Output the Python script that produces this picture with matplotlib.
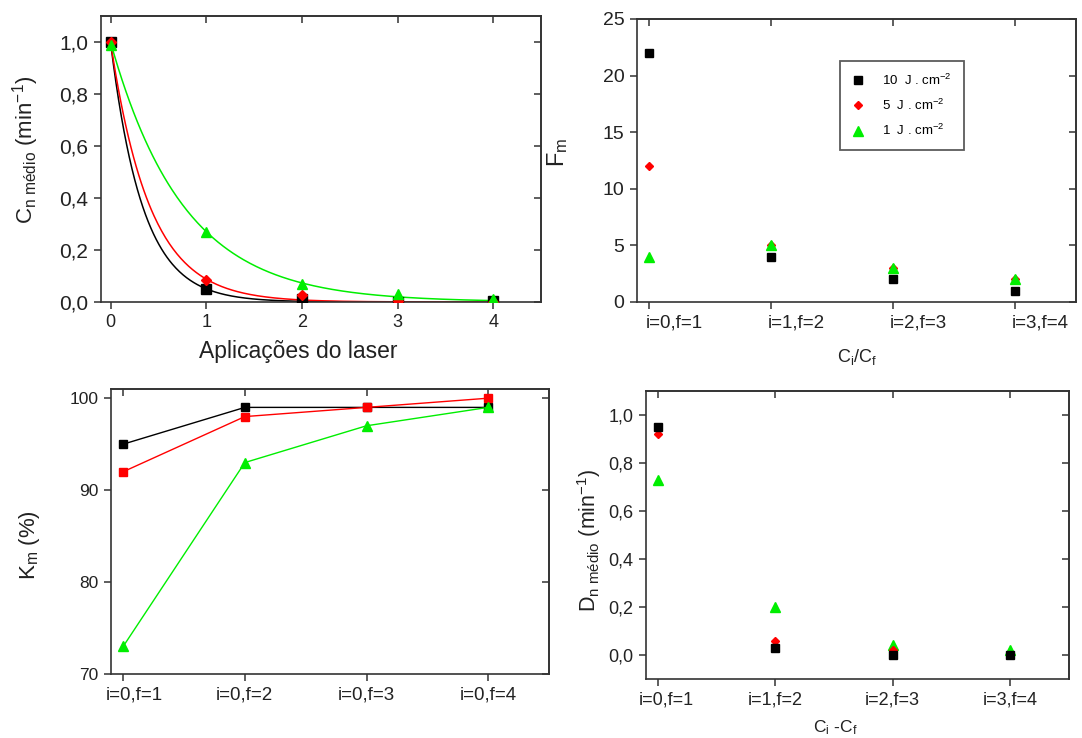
import numpy as np
import matplotlib
import matplotlib.pyplot as plt
import matplotlib.transforms as mtransforms
from matplotlib.ticker import FuncFormatter

matplotlib.use("AGG")

plt.rcParams["font.family"] = ["Liberation Sans", "DejaVu Sans"]
plt.rcParams["mathtext.fontset"] = "custom"
plt.rcParams["mathtext.rm"] = "Liberation Sans"
plt.rcParams["mathtext.it"] = "Liberation Sans:italic"

# C_n medio por aplicacao do laser
aplicacoes = [0, 1, 2, 3, 4]
cn_10 = [1.0, 0.05, 0.01, 0.0, 0.005]
cn_5 = [1.0, 0.085, 0.025, 0.005, 0.0]
cn_1 = [0.99, 0.27, 0.07, 0.03, 0.01]
fim_ajuste = [2.8, 4.0, 4.0]

# F_m
pares_razao = ["i=0,f=1", "i=1,f=2", "i=2,f=3", "i=3,f=4"]
fm_10 = [22, 4, 2, 1]
fm_5 = [12, 5, 3, 2]
fm_1 = [4, 5, 3, 2]

# K_m (%)
pares_km = ["i=0,f=1", "i=0,f=2", "i=0,f=3", "i=0,f=4"]
km_10 = [95, 99, 99, 99]
km_5 = [92, 98, 99, 100]
km_1 = [73, 93, 97, 99]

# D_n medio
dn_10 = [0.95, 0.03, 0.0, 0.0]
dn_5 = [0.92, 0.06, 0.02, 0.0]
dn_1 = [0.73, 0.20, 0.04, 0.02]

legendas = [r"10  J . cm$^{\mathregular{-2}}$",
            r"5  J . cm$^{\mathregular{-2}}$",
            r"1  J . cm$^{\mathregular{-2}}$"]

PRETO = "#000000"
VERMELHO = "#ff0000"
VERDE = "#00ee00"
CINZA = "#333333"
TEXTO = "#222222"


def virgula(v, pos):
    """Formata com virgula decimal."""
    return "{:.1f}".format(v).replace(".", ",")


def estilo(ax, xt, yt, tam=13):
    """Ticks para fora em baixo/esquerda e para dentro em cima/direita."""
    for s in ax.spines.values():
        s.set_color(CINZA)
        s.set_linewidth(1.2)
    ax.set_xticks(xt)
    ax.set_yticks(yt)
    ax.tick_params(direction="out", length=5, width=1.1, color=CINZA,
                   labelsize=tam, labelcolor=TEXTO, pad=4)
    topo = ax.secondary_xaxis("top")
    topo.set_xticks(xt)
    topo.tick_params(direction="in", length=5, width=1.1, color=CINZA,
                     labeltop=False)
    direita = ax.secondary_yaxis("right")
    direita.set_yticks(yt)
    direita.tick_params(direction="in", length=5, width=1.1, color=CINZA,
                        labelright=False)
    for sec in (topo, direita):
        for s in sec.spines.values():
            s.set_color(CINZA)
            s.set_linewidth(1.2)


def desloca(rotulo, dx):
    """Desloca um rotulo de tick dx pixels na horizontal."""
    rotulo.set_transform(rotulo.get_transform() +
                         mtransforms.Affine2D().translate(dx, 0))


def ajusta_exp(x, y):
    """Ajuste y = exp(-k x) por busca em grade."""
    x = np.asarray(x, float)
    y = np.asarray(y, float)
    ks = np.linspace(0.1, 6, 6000)
    erro = [np.sum((y - np.exp(-k * x)) ** 2) for k in ks]
    return ks[int(np.argmin(erro))]


fig = plt.figure(figsize=(10.82, 7.38), dpi=100)

# painel 1: C_n medio
ax1 = fig.add_axes([0.0933, 0.5908, 0.4067, 0.3875])
for ys, cor, mk, ms, xf in zip([cn_10, cn_5, cn_1], [PRETO, VERMELHO, VERDE],
                               ["s", "D", "^"], [6.5, 5.5, 7.5], fim_ajuste):
    k = ajusta_exp(aplicacoes, ys)
    xx = np.linspace(0, xf, 300)
    ax1.plot(xx, np.exp(-k * xx), color=cor, lw=1.1, zorder=2)
    ax1.plot(aplicacoes, ys, ls="none", marker=mk, ms=ms, color=cor, zorder=3)
ax1.set_xlim(-0.1, 4.5)
ax1.set_ylim(0, 1.1)
estilo(ax1, [0, 1, 2, 3, 4], [0, 0.2, 0.4, 0.6, 0.8, 1.0])
ax1.yaxis.set_major_formatter(FuncFormatter(virgula))
ax1.tick_params(axis="y", labelsize=15)
ax1.set_ylabel(r"C$_{\mathregular{n\ médio}}$ (min$^{\mathregular{-1}}$)",
               fontsize=16, color=TEXTO)
ax1.yaxis.set_label_coords(-0.136, 0.531)
ax1.set_xlabel("Aplicações do laser", fontsize=16.5, color=TEXTO)
ax1.xaxis.set_label_coords(0.448, -0.133)

# painel 2: F_m
ax2 = fig.add_axes([0.5887, 0.5908, 0.4057, 0.3835])
xs = np.arange(len(pares_razao))
for ys, cor, mk, ms, lab in zip([fm_10, fm_5, fm_1], [PRETO, VERMELHO, VERDE],
                                ["s", "D", "^"], [5.5, 4.5, 7], legendas):
    ax2.plot(xs, ys, ls="none", marker=mk, ms=ms, color=cor, label=lab)
ax2.set_xlim(-0.1, 3.5)
ax2.set_ylim(0, 25)
estilo(ax2, xs, [0, 5, 10, 15, 20, 25], tam=13.5)
ax2.set_xticklabels(pares_razao, ha="left")
for r in ax2.get_xticklabels():
    desloca(r, -3)
ax2.tick_params(axis="y", labelsize=14)
ax2.set_ylabel(r"F$_{\mathregular{m}}$", fontsize=17, color=TEXTO)
ax2.yaxis.set_label_coords(-0.153, 0.527)
ax2.set_xlabel(r"C$_{\mathregular{i}}$/C$_{\mathregular{f}}$", fontsize=13,
               color=TEXTO)
ax2.xaxis.set_label_coords(0.501, -0.159)
leg = ax2.legend(loc="upper left", bbox_to_anchor=(0.462, 0.852), fontsize=9.5,
                 frameon=True, fancybox=False, handlelength=1.0,
                 handletextpad=1.3, labelspacing=0.75, borderpad=0.9,
                 borderaxespad=0)
leg.get_frame().set_edgecolor(CINZA)
leg.get_frame().set_linewidth(1.3)

# painel 3: K_m
ax3 = fig.add_axes([0.1026, 0.0867, 0.4048, 0.3862])
xs = np.arange(len(pares_km))
for ys, cor, mk, ms in zip([km_10, km_5, km_1], [PRETO, VERMELHO, VERDE],
                           ["s", "s", "^"], [5.5, 5.5, 6.5]):
    ax3.plot(xs, ys, color=cor, lw=1.0, marker=mk, ms=ms)
ax3.set_xlim(-0.1, 3.5)
ax3.set_ylim(70, 101)
estilo(ax3, xs, [70, 80, 90, 100], tam=13.5)
ax3.set_xticklabels(pares_km)
desloca(ax3.get_xticklabels()[0], 11)
ax3.tick_params(axis="y", labelsize=12.5)
ax3.set_ylabel(r"K$_{\mathregular{m}}$ (%)", fontsize=16, color=TEXTO)
ax3.yaxis.set_label_coords(-0.158, 0.453)

# painel 4: D_n medio
ax4 = fig.add_axes([0.5970, 0.0799, 0.3909, 0.3902])
xs = np.arange(len(pares_razao))
for ys, cor, mk, ms in zip([dn_1, dn_5, dn_10], [VERDE, VERMELHO, PRETO],
                           ["^", "D", "s"], [7, 4.5, 5.5]):
    ax4.plot(xs, ys, ls="none", marker=mk, ms=ms, color=cor)
ax4.set_xlim(-0.1, 3.5)
ax4.set_ylim(-0.1, 1.1)
estilo(ax4, xs, [0, 0.2, 0.4, 0.6, 0.8, 1.0], tam=13)
ax4.set_xticklabels(pares_razao)
desloca(ax4.get_xticklabels()[0], 9)
ax4.yaxis.set_major_formatter(FuncFormatter(virgula))
ax4.tick_params(axis="y", labelsize=13)
ax4.set_ylabel(r"D$_{\mathregular{n\ médio}}$ (min$^{\mathregular{-1}}$)",
               fontsize=15.5, color=TEXTO)
ax4.yaxis.set_label_coords(-0.102, 0.483)
ax4.set_xlabel(r"C$_{\mathregular{i}}$ -C$_{\mathregular{f}}$", fontsize=12.5,
               color=TEXTO)
ax4.xaxis.set_label_coords(0.447, -0.135)

fig.savefig("out.png", dpi=100)
